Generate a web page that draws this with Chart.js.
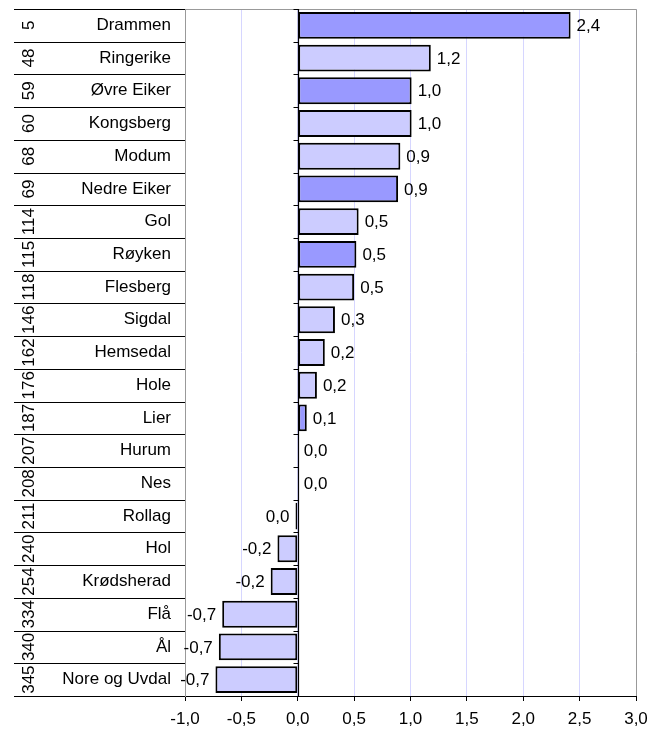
<!DOCTYPE html>
<html>
<head>
<meta charset="utf-8">
<script src="https://cdn.jsdelivr.net/npm/chart.js@4.4.1/dist/chart.umd.min.js"></script>
<style>
  html, body { margin: 0; padding: 0; background: #fff; }
  canvas { display: block; }
</style>
</head>
<body>
<canvas id="chart" width="664" height="731"></canvas>
<script>
// rank among all municipalities, name, value
const ranks = [5, 48, 59, 60, 68, 69, 114, 115, 118, 146, 162, 176, 187, 207, 208, 211, 240, 254, 334, 340, 345];
const names = ['Drammen', 'Ringerike', 'Øvre Eiker', 'Kongsberg', 'Modum', 'Nedre Eiker', 'Gol', 'Røyken',
  'Flesberg', 'Sigdal', 'Hemsedal', 'Hole', 'Lier', 'Hurum', 'Nes', 'Rollag', 'Hol', 'Krødsherad',
  'Flå', 'Ål', 'Nore og Uvdal'];
const values = [2.42, 1.18, 1.01, 1.01, 0.91, 0.89, 0.54, 0.52, 0.50, 0.33, 0.24, 0.17, 0.08, 0.0, 0.0,
  -0.02, -0.18, -0.24, -0.67, -0.70, -0.73];
// municipalities drawn in the darker colour
const highlighted = ['Drammen', 'Øvre Eiker', 'Nedre Eiker', 'Røyken', 'Lier'];

const FAMILY = '"Liberation Sans", Arial, sans-serif';
const FONT = '17px ' + FAMILY;
const fmt = v => {
  let s = Number(v).toFixed(1);
  if (s === '-0.0') s = '0.0';
  return s.replace('.', ',');
};

const tablePlugin = {
  id: 'table',
  afterDraw(chart) {
    const ctx = chart.ctx;
    const area = chart.chartArea;
    const xs = chart.scales.x, ys = chart.scales.y;
    const n = names.length;
    const rowH = (area.bottom - area.top) / n;
    const x0 = Math.round(xs.getPixelForValue(0)) + 0.5;

    ctx.save();
    // plot frame (grey top, right, left)
    ctx.strokeStyle = '#999';
    ctx.lineWidth = 1;
    ctx.beginPath();
    ctx.moveTo(Math.round(area.left) + 0.5, area.bottom);
    ctx.lineTo(Math.round(area.left) + 0.5, Math.round(area.top) + 0.5);
    ctx.lineTo(Math.round(area.right) + 0.5, Math.round(area.top) + 0.5);
    ctx.lineTo(Math.round(area.right) + 0.5, area.bottom);
    ctx.stroke();

    // table rows on the left and ticks on the zero axis
    ctx.strokeStyle = '#000';
    ctx.beginPath();
    for (let i = 0; i <= n; i++) {
      const y = Math.round(area.top + i * rowH) + 0.5;
      ctx.moveTo(14, y);
      ctx.lineTo(area.left, y);
      ctx.moveTo(x0 - 5, y);
      ctx.lineTo(x0, y);
    }
    ctx.stroke();

    // zero axis
    ctx.lineWidth = 1.2;
    ctx.beginPath();
    ctx.moveTo(x0, area.top);
    ctx.lineTo(x0, area.bottom);
    ctx.stroke();

    // rank numbers, vertical
    ctx.fillStyle = '#000';
    ctx.font = FONT;
    ctx.textAlign = 'center';
    ctx.textBaseline = 'middle';
    ranks.forEach((r, i) => {
      const y = ys.getPixelForValue(i);
      ctx.save();
      ctx.translate(28, y);
      ctx.rotate(-Math.PI / 2);
      ctx.fillText(String(r), 0, 1);
      ctx.restore();
    });

    // value labels
    const meta = chart.getDatasetMeta(0);
    meta.data.forEach((bar, i) => {
      const v = values[i];
      if (v < 0) {
        ctx.textAlign = 'right';
        ctx.fillText(fmt(v), bar.x - 6, bar.y + 1);
      } else {
        ctx.textAlign = 'left';
        ctx.fillText(fmt(v), Math.max(bar.x, bar.base) + 6, bar.y + 1);
      }
    });
    ctx.restore();
  }
};

new Chart(document.getElementById('chart'), {
  type: 'bar',
  data: {
    labels: names,
    datasets: [{
      data: values,
      backgroundColor: names.map(n => highlighted.includes(n) ? '#9999ff' : '#ccccff'),
      borderColor: '#000',
      borderWidth: 2,
      borderSkipped: false,
      barPercentage: 0.82,
      categoryPercentage: 1
    }]
  },
  options: {
    indexAxis: 'y',
    responsive: false,
    animation: false,
    layout: { padding: { left: 0, right: 28, top: 9, bottom: 0 } },
    plugins: { legend: { display: false }, tooltip: { enabled: false } },
    scales: {
      x: {
        min: -1,
        max: 3,
        ticks: { stepSize: 0.5, callback: v => fmt(v), color: '#000', font: { family: FAMILY, size: 17 }, padding: 8 },
        grid: { color: '#d6d6ff', tickColor: '#000', tickLength: 5, lineWidth: 1 },
        border: { color: '#000', width: 1 },
        afterFit: s => { s.height = 35; s.paddingLeft = 0; s.paddingRight = 0; }
      },
      y: {
        ticks: { color: '#000', font: { family: FAMILY, size: 17 }, padding: 14, autoSkip: false },
        grid: { display: false, drawTicks: false },
        border: { color: '#999' },
        afterFit: s => { s.width = 185; s.paddingTop = 0; s.paddingBottom = 0; }
      }
    }
  },
  plugins: [tablePlugin]
});
</script>
</body>
</html>
